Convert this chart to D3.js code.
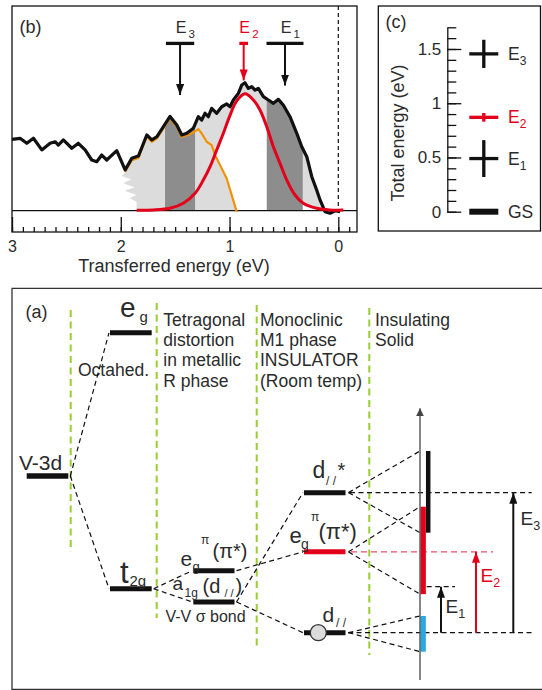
<!DOCTYPE html>
<html><head><meta charset="utf-8">
<script src="https://cdn.jsdelivr.net/npm/d3@7/dist/d3.min.js"></script>
<style>html,body{margin:0;padding:0;background:#fff}svg{display:block}</style>
</head><body>
<svg id="fig" width="542" height="690" font-family='"Liberation Sans", Arial, Helvetica, sans-serif'></svg>
<script>
// ---------------- DATA ----------------
// (b) RIXS spectrum (transferred energy eV, intensity arb.)
const spectrumE = [3.0,2.926,2.864,2.803,2.726,2.650,2.604,2.574,2.528,2.450,2.390,2.328,2.267,2.221,2.175,2.129,2.037,1.960,1.899,1.838,1.761,1.715,1.669,1.608,1.547,1.485,1.439,1.393,1.333,1.287,1.256,1.225,1.195,1.164,1.118,1.072,1.026,0.995,0.965,0.919,0.888,0.858,0.827,0.796,0.766,0.735,0.689,0.643,0.597,0.551,0.506,0.444,0.382,0.336,0.290,0.244,0.199,0.168,0.122,0.076,0.030,-0.016];
const spectrumI = [0.559,0.567,0.528,0.567,0.476,0.528,0.540,0.514,0.554,0.489,0.528,0.476,0.397,0.384,0.436,0.397,0.470,0.319,0.410,0.428,0.593,0.554,0.579,0.658,0.738,0.671,0.593,0.606,0.645,0.736,0.710,0.763,0.736,0.802,0.763,0.814,0.836,0.814,0.867,0.919,0.984,1.002,0.958,0.971,0.945,0.958,0.893,0.867,0.841,0.872,0.828,0.736,0.606,0.501,0.423,0.266,0.162,0.084,-0.008,-0.020,0.0,-0.008];
const orangeE = [1.960,1.899,1.838,1.761,1.715,1.669,1.608,1.547,1.485,1.439,1.393,1.347,1.287,1.256,1.210,1.164,1.133,1.087,1.026,0.980,0.934];
const orangeI = [0.319,0.410,0.428,0.593,0.554,0.579,0.658,0.738,0.671,0.593,0.606,0.619,0.653,0.619,0.554,0.528,0.449,0.371,0.266,0.136,0.005];
const fitE = [1.853,1.70,1.548,1.425,1.317,1.241,1.179,1.118,1.057,0.995,0.934,0.858,0.781,0.720,0.658,0.597,0.536,0.474,0.398,0.322,0.199,0.080,-0.046];
const fitI = [0.004,0.006,0.019,0.058,0.136,0.240,0.345,0.475,0.606,0.749,0.860,0.915,0.867,0.789,0.658,0.501,0.371,0.240,0.123,0.058,0.019,0.006,0.005];
const edgeE = [1.853,1.853,1.915,1.853,1.960,1.868,1.976,1.899,1.991,1.950];
const edgeI = [0.0,0.070,0.097,0.123,0.157,0.183,0.215,0.246,0.272,0.313];
const bandLoE = [1.317, 0.327];
const bandHiE = [1.593, 0.658];
const axisTicksB = [3, 2, 1, 0];
// excitations E1, E2, E3
const transNames = ['1', '2', '3'];
const transE = [0.49, 0.87, 1.455];
const transErr = [0.17, 0.04, 0.13];
const arrowTipI = [0.98, 1.02, 0.906];
// (c)
const levelTicksC = [0, 0.5, 1, 1.5];
const gsName = 'GS';
const gsE = 0;
// (a) energy level diagram (arb. energy units)
const levelId  = ['v3d','eg','t2g','egT','a1g','dS','egM','dP'];
const levelCol = [0,1,1,2,2,3,3,3];
const levelE   = [1.667,3.19,0.468,0.66,0.327,1.49,0.86,0.0];
const linkFrom = ['v3d','v3d','t2g','t2g','egT','a1g','a1g'];
const linkTo   = ['eg','t2g','egT','a1g','egM','dS','dP'];
const bandLevel  = ['dS','egM','dP'];
const bandBottom = [1.064,0.41,-0.202];
const bandTop    = [1.933,1.34,0.178];
const diagTransE = [0.49,0.86,1.49];
const phaseText = [
  ['Octahed.'],
  ['Tetragonal','distortion','in metallic','R phase'],
  ['Monoclinic','M1 phase','INSULATOR','(Room temp)'],
  ['Insulating','Solid']
];

// ---------------- STYLE / LAYOUT ----------------
const RED='#e2001a', ORANGE='#f39200', LG='#dcdcdc', DG='#8d8d8d', BLUE='#27a9e1', GREEN='#9acd32', INK='#2b2b2b', K='#111';
const svg = d3.select('#fig');
const defs = svg.append('defs');
function marker(id,color,len,wid){
  defs.append('marker').attr('id',id).attr('viewBox','0 0 10 10').attr('refX',10).attr('refY',5)
    .attr('markerUnits','userSpaceOnUse').attr('markerWidth',len).attr('markerHeight',wid)
    .attr('orient','auto').attr('preserveAspectRatio','none')
    .append('path').attr('d','M0,0L10,5L0,10Z').attr('fill',color);
}
marker('ahK',K,11,8); marker('ahR',RED,11,8); marker('ahG','#444',8,8);
function label(g,x,y,t,size,fill,anchor){
  return g.append('text').attr('x',x).attr('y',y).attr('font-size',size).attr('fill',fill||INK)
    .attr('text-anchor',anchor||'start').text(t);
}
function rich(g,x,y,anchor,fill,segs){
  const t=g.append('text').attr('x',x).attr('y',y).attr('text-anchor',anchor).attr('fill',fill);
  segs.forEach(s=>t.append('tspan').attr('y',y+(s.b||0)).attr('dx',s.dx||0).attr('font-size',s.s).text(s.t));
  return t;
}

// ================= PANEL (b) =================
const B={l:12,t:6,r:357,b:232};
const xB=d3.scaleLinear().domain([3,-0.17]).range([12,356.8]);
const yB=d3.scaleLinear().domain([0,1]).range([210.7,83]);
const gB=svg.append('g');
const spec=spectrumE.map((e,i)=>[e,spectrumI[i]]);
const orng=orangeE.map((e,i)=>[e,orangeI[i]]);
const fit=fitE.map((e,i)=>[e,fitI[i]]);
const edge=edgeE.map((e,i)=>[e,edgeI[i]]);
const inside=spec.filter(d=>d[0]<=1.96 && d[0]>=0.12);
const poly=edge.concat(inside).concat([[inside[inside.length-1][0],0]]);
const lineB=d3.line().x(d=>xB(d[0])).y(d=>yB(d[1]));
const fitCurve=d3.curveCatmullRom.alpha(0.5);
defs.append('clipPath').attr('id','under').append('path').attr('d',lineB(poly)+'Z');
const fillG=gB.append('g').attr('clip-path','url(#under)');
fillG.append('rect').attr('x',B.l).attr('y',B.t).attr('width',B.r-B.l).attr('height',yB(0)-B.t).attr('fill',LG);
fillG.append('path').attr('d',d3.area().x(d=>xB(d[0])).y0(yB(0)).y1(d=>yB(d[1])).curve(fitCurve)(fit)).attr('fill','#fff');
fillG.append('path').attr('d',d3.area().x(d=>xB(d[0])).y0(yB(0)).y1(d=>yB(d[1]))(orng)).attr('fill',LG);
bandLoE.forEach((lo,i)=>fillG.append('rect').attr('x',xB(bandHiE[i])).attr('y',B.t)
  .attr('width',xB(lo)-xB(bandHiE[i])).attr('height',yB(0)-B.t).attr('fill',DG));
// baseline and zero-loss dashed line
gB.append('line').attr('x1',B.l).attr('x2',B.r).attr('y1',yB(0)).attr('y2',yB(0)).attr('stroke',K).attr('stroke-width',1.2);
gB.append('line').attr('x1',xB(0)).attr('x2',xB(0)).attr('y1',B.t).attr('y2',yB(0)).attr('stroke',K).attr('stroke-width',1.2).attr('stroke-dasharray','4,3');
// curves
gB.append('path').attr('d',lineB(orng)).attr('fill','none').attr('stroke',ORANGE).attr('stroke-width',2.2).attr('stroke-linejoin','round').attr('transform','translate(0,1.8)');
gB.append('path').attr('d',lineB(spec)).attr('fill','none').attr('stroke',K).attr('stroke-width',3.2).attr('stroke-linejoin','round');
gB.append('path').attr('d',lineB.curve(fitCurve)(fit)).attr('fill','none').attr('stroke',RED).attr('stroke-width',3);
// axis
const axMinor=gB.append('g').attr('transform',`translate(0,${B.b})`)
  .call(d3.axisBottom(xB).tickValues(xB.ticks(30)).tickSize(-5).tickSizeOuter(0).tickFormat(''));
const axMajor=gB.append('g').attr('transform',`translate(0,${B.b})`)
  .call(d3.axisBottom(xB).tickValues(axisTicksB).tickSize(-15).tickSizeOuter(0).tickPadding(9).tickFormat(d3.format('d')));
[axMinor,axMajor].forEach(a=>{a.select('.domain').remove();a.selectAll('line').attr('stroke',K).attr('stroke-width',1.3);});
axMajor.selectAll('text').attr('font-size',16).attr('fill',INK).attr('font-family',null);
label(gB,174,271.7,'Transferred energy (eV)',18,INK,'middle');
// excitation markers
transE.forEach((e,i)=>{
  const c=i===1?RED:K, yb=yB(1.31);
  gB.append('line').attr('x1',xB(e+transErr[i])).attr('x2',xB(e-transErr[i])).attr('y1',yb).attr('y2',yb).attr('stroke',c).attr('stroke-width',3.3);
  gB.append('line').attr('x1',xB(e)).attr('x2',xB(e)).attr('y1',yb).attr('y2',yB(arrowTipI[i])).attr('stroke',c).attr('stroke-width',2)
    .attr('marker-end',i===1?'url(#ahR)':'url(#ahK)');
  rich(gB,xB(e)+1,33.3,'middle',i===1?RED:INK,[{t:'E',s:16},{t:transNames[i],s:11.5,b:5}]);
});
label(gB,19.5,33,'(b)',18);
gB.append('rect').attr('x',B.l).attr('y',B.t).attr('width',B.r-B.l).attr('height',B.b-B.t).attr('fill','none').attr('stroke',K).attr('stroke-width',1.3);

// ================= PANEL (c) =================
const C={l:378.3,t:6,r:540.5,b:231};
const yC=d3.scaleLinear().domain([0,1.7]).range([211.7,27.3]);
const gC=svg.append('g');
const axCx=447.3;
const cMinor=gC.append('g').attr('transform',`translate(${axCx},0)`)
  .call(d3.axisLeft(yC).tickValues(yC.ticks(17)).tickSize(-9).tickSizeOuter(0).tickFormat(''));
cMinor.select('.domain').remove();
const cMajor=gC.append('g').attr('transform',`translate(${axCx},0)`)
  .call(d3.axisLeft(yC).tickValues(levelTicksC).tickSize(-14).tickSizeOuter(0).tickPadding(6).tickFormat(d3.format('')));
[cMinor,cMajor].forEach(a=>a.selectAll('line').attr('stroke',K).attr('stroke-width',1.3));
cMajor.select('.domain').attr('stroke',K).attr('stroke-width',1.3);
cMajor.selectAll('text').attr('font-size',17).attr('fill',INK).attr('font-family',null);
gC.append('text').attr('transform','translate(404,133) rotate(-90)').attr('text-anchor','middle').attr('font-size',18).attr('fill',INK).text('Total energy (eV)');
const cx=483.8, half=14.5;
gC.append('line').attr('x1',cx-half).attr('x2',cx+half).attr('y1',yC(gsE)).attr('y2',yC(gsE)).attr('stroke',K).attr('stroke-width',6);
label(gC,508,yC(gsE)+6,gsName,17.5);
transE.forEach((e,i)=>{
  const c=i===1?RED:K;
  gC.append('line').attr('x1',cx-half).attr('x2',cx+half).attr('y1',yC(e)).attr('y2',yC(e)).attr('stroke',c).attr('stroke-width',3.3);
  gC.append('line').attr('x1',cx).attr('x2',cx).attr('y1',yC(e-transErr[i])).attr('y2',yC(e+transErr[i])).attr('stroke',c).attr('stroke-width',3.3);
  rich(gC,508,yC(e)+6,'start',i===1?RED:INK,[{t:'E',s:17.5},{t:transNames[i],s:12,b:5}]);
});
label(gC,385.5,28,'(c)',18);
gC.append('rect').attr('x',C.l).attr('y',C.t).attr('width',C.r-C.l).attr('height',C.b-C.t).attr('fill','none').attr('stroke',K).attr('stroke-width',1.3);

// ================= PANEL (a) =================
const A={l:12,t:288.3,r:542,b:689.3};
const yA=d3.scaleLinear().domain([0,1]).range([632.7,538.7]);
const colX=[[26.7,68.3],[110,151.7],[193.3,234.5],[304,345.5]];
const axisX=420;
const gA=svg.append('g');
// phase separators (green dashed)
const sepX=[70.7,156.7,256.7,369.3], sepY=[[310,551.7],[303,618],[305,650],[308,655]];
sepX.forEach((x,i)=>gA.append('line').attr('x1',x).attr('x2',x).attr('y1',sepY[i][0]).attr('y2',sepY[i][1])
  .attr('stroke',GREEN).attr('stroke-width',2).attr('stroke-dasharray','7,4.5'));
// phase texts
const phaseX=[78,163.3,260,375];
phaseText.forEach((lines,i)=>lines.forEach((t,j)=>label(gA,phaseX[i],(i===0?376:326)+j*20.2,t,17.5)));
const lvl={}; levelId.forEach((id,i)=>lvl[id]={col:levelCol[i],e:levelE[i]});
function dline(x1,y1,x2,y2,color,da){
  return gA.append('line').attr('x1',x1).attr('y1',y1).attr('x2',x2).attr('y2',y2)
   .attr('stroke',color||K).attr('stroke-width',1.2).attr('stroke-dasharray',da||'5,3.5');
}
linkFrom.forEach((f,i)=>{
  const a=lvl[f], b=lvl[linkTo[i]];
  dline(colX[a.col][1]+2,yA(a.e),colX[b.col][0]-1,yA(b.e));
});
bandLevel.forEach((id,i)=>{
  const a=lvl[id];
  dline(colX[a.col][1]+3,yA(a.e),axisX,yA(bandTop[i]));
  dline(colX[a.col][1]+3,yA(a.e),axisX,yA(bandBottom[i]));
});
// horizontal dashed guides for transitions
dline(350,yA(diagTransE[2]),531.7,yA(diagTransE[2]));
dline(351,yA(diagTransE[1]),493,yA(diagTransE[1]),'#e8506a','6,4');
dline(348,yA(lvl.dP.e),532.7,yA(lvl.dP.e));
dline(426.7,yA(diagTransE[0]),455,yA(diagTransE[0]));
// level bars
levelId.forEach((id,i)=>{
  const c=colX[levelCol[i]];
  gA.append('line').attr('x1',c[0]).attr('x2',c[1]).attr('y1',yA(levelE[i])).attr('y2',yA(levelE[i]))
    .attr('stroke',id==='egM'?RED:K).attr('stroke-width',id==='v3d'?5.5:5);
});
gA.append('circle').attr('cx',318.3).attr('cy',yA(lvl.dP.e)).attr('r',8).attr('fill','#dcdcdc').attr('stroke','#333').attr('stroke-width',1.3);
// band bars
const bandColor=[K,RED,BLUE], bandXc=[428.2,423.1,423.1], bandW=[4.5,5.5,5.5];
bandLevel.forEach((id,i)=>gA.append('rect').attr('x',bandXc[i]-bandW[i]/2).attr('width',bandW[i])
  .attr('y',yA(bandTop[i])).attr('height',yA(bandBottom[i])-yA(bandTop[i])).attr('fill',bandColor[i]));
// energy axis
gA.append('line').attr('x1',axisX).attr('x2',axisX).attr('y1',yA(-0.503)).attr('y2',yA(2.387))
  .attr('stroke','#555').attr('stroke-width',1.4).attr('marker-end','url(#ahG)');
// transition arrows
const arrX=[441,476,513.3];
diagTransE.forEach((e,i)=>{
  gA.append('line').attr('x1',arrX[i]).attr('x2',arrX[i]).attr('y1',yA(0)).attr('y2',yA(e))
    .attr('stroke',i===1?RED:K).attr('stroke-width',2).attr('marker-end',i===1?'url(#ahR)':'url(#ahK)');
});
rich(gA,445.5,613.3,'start',INK,[{t:'E',s:19},{t:transNames[0],s:12.5,b:5}]);
rich(gA,480.5,581.7,'start',RED,[{t:'E',s:19},{t:transNames[1],s:12.5,b:5}]);
rich(gA,520.5,525,'start',INK,[{t:'E',s:19},{t:transNames[2],s:12.5,b:5}]);
// level labels
label(gA,25.5,318,'(a)',18);
label(gA,19,470,'V-3d',21);
label(gA,120,317,'e',28); label(gA,139.5,322,'g',15);
label(gA,120,583.3,'t',31); label(gA,129.5,586,'2g',15);
label(gA,180.5,566,'e',21); label(gA,192.5,571,'g',13); label(gA,201,543.5,'π',12); label(gA,212.5,557.5,'(π*)',20);
label(gA,172.5,590,'a',19); label(gA,184.5,596.5,'1g',12);
label(gA,202.5,592.5,'(d',20); label(gA,224.5,597,'/ /',11); label(gA,235.5,592.5,')',20);
label(gA,165.5,621.5,'V-V σ bond',16);
label(gA,312.5,478.3,'d',23); label(gA,326,485,'/ /',12); label(gA,337.5,476.5,'*',20);
label(gA,289.5,543,'e',22); label(gA,301,549,'g',14); label(gA,311,521,'π',12); label(gA,318.5,539,'(π*)',22);
label(gA,322.5,621.7,'d',21); label(gA,336,626.5,'/ /',12);
// frame (a)
gA.append('path').attr('d',`M${A.r},${A.t}H${A.l}V${A.b}H${A.r}`).attr('fill','none').attr('stroke','#333').attr('stroke-width',1.3);
</script>
</body></html>
